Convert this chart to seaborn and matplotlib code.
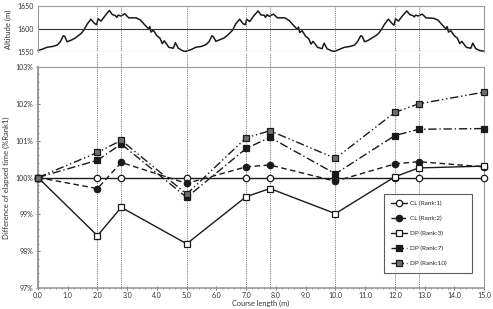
import numpy as np
import pandas as pd
import seaborn as sns
import matplotlib.pyplot as plt
from matplotlib.ticker import MultipleLocator, FuncFormatter

sns.set_theme(style="white")
plt.rcParams['font.family'] = ['Lato', 'DejaVu Sans']

# course profile (km, altitude in m), three laps
alt_km = [0.00, 0.15, 0.30, 0.50, 0.65, 0.75, 0.85, 0.90, 0.98, 1.10, 1.25, 1.35, 1.45, 1.55, 1.65, 1.78,
          1.90, 1.97, 2.02, 2.12, 2.25, 2.40, 2.50, 2.60, 2.65, 2.70, 2.78, 2.85, 2.92, 3.05, 3.30, 3.45,
          3.60, 3.72, 3.76, 3.80, 3.88, 4.00, 4.10, 4.18, 4.25, 4.40, 4.55, 4.62, 4.72, 4.85, 4.95,
          5.00, 5.15, 5.30, 5.50, 5.65, 5.75, 5.85, 5.90, 5.98, 6.10, 6.25, 6.35, 6.45, 6.55, 6.65, 6.78,
          6.90, 6.97, 7.02, 7.12, 7.25, 7.40, 7.50, 7.60, 7.65, 7.70, 7.78, 7.85, 7.92, 8.05, 8.30, 8.45,
          8.60, 8.72, 8.76, 8.80, 8.88, 9.00, 9.10, 9.18, 9.25, 9.40, 9.55, 9.62, 9.72, 9.85, 9.95,
          10.00, 10.15, 10.30, 10.50, 10.65, 10.75, 10.85, 10.90, 10.98, 11.10, 11.25, 11.35, 11.45, 11.55,
          11.65, 11.78, 11.90, 11.97, 12.02, 12.12, 12.25, 12.40, 12.50, 12.60, 12.65, 12.70, 12.78, 12.85,
          12.92, 13.05, 13.30, 13.45, 13.60, 13.72, 13.76, 13.80, 13.88, 14.00, 14.10, 14.18, 14.25, 14.40,
          14.55, 14.62, 14.72, 14.85, 14.95, 15.00]
alt_m = [1553, 1556, 1560, 1562, 1565, 1572, 1585, 1584, 1572, 1575, 1580, 1585, 1590, 1598, 1610, 1621,
         1612, 1609, 1622, 1617, 1628, 1640, 1631, 1629, 1625, 1630, 1628, 1630, 1633, 1624, 1624, 1619,
         1608, 1600, 1605, 1593, 1597, 1585, 1580, 1568, 1574, 1560, 1558, 1570, 1558, 1553, 1551,
         1552, 1555, 1560, 1562, 1566, 1572, 1585, 1583, 1573, 1576, 1580, 1585, 1591, 1598, 1611, 1621,
         1611, 1609, 1621, 1616, 1628, 1639, 1630, 1630, 1625, 1631, 1627, 1630, 1632, 1624, 1624, 1618,
         1607, 1599, 1604, 1592, 1596, 1584, 1579, 1567, 1573, 1560, 1557, 1569, 1557, 1553, 1551,
         1552, 1556, 1560, 1562, 1565, 1573, 1585, 1584, 1572, 1575, 1581, 1585, 1590, 1599,
         1610, 1621, 1612, 1608, 1622, 1617, 1628, 1639, 1631, 1629, 1626, 1630, 1628, 1630,
         1632, 1624, 1623, 1619, 1608, 1600, 1605, 1593, 1596, 1585, 1580, 1568, 1573, 1560,
         1558, 1569, 1557, 1553, 1552, 1552]

# split points and elapsed-time ratios
split_km = [0.0, 2.0, 2.8, 5.0, 7.0, 7.8, 10.0, 12.0, 12.8, 15.0]
cl_rank1 = [100.0, 100.0, 100.0, 100.0, 100.0, 100.0, 100.0, 100.0, 100.0, 100.0]
cl_rank2 = [100.0, 99.70, 100.41, 99.84, 100.29, 100.34, 99.90, 100.37, 100.43, 100.29]
dp_rank3 = [100.0, 98.42, 99.19, 98.20, 99.48, 99.70, 99.02, 100.02, 100.26, 100.31]
dp_rank7 = [100.0, 100.47, 100.91, 99.46, 100.79, 101.09, 100.10, 101.14, 101.31, 101.33]
dp_rank10 = [100.0, 100.68, 101.01, 99.55, 101.08, 101.27, 100.52, 101.77, 102.00, 102.32]
guide_km = [2.0, 2.8, 5.0, 7.0, 7.8, 10.0, 12.0, 12.8]

fig = plt.figure(figsize=(4.93, 3.09), dpi=100)
ax_top = fig.add_axes([0.077, 0.832, 0.905, 0.149])
ax = fig.add_axes([0.077, 0.068, 0.905, 0.715])

line_c = '#1a1a1a'
frame_c = '#9a9a9a'

# altitude panel
sns.lineplot(x=alt_km, y=alt_m, ax=ax_top, color=line_c, lw=1.1, clip_on=False)
ax_top.set_xlim(0, 15)
ax_top.set_ylim(1550, 1650)
ax_top.set_yticks([1550, 1600, 1650])
ax_top.set_xticks([])
ax_top.axhline(1600, color='#333333', lw=0.8)
ax_top.axhline(1550, color='#333333', lw=0.8)
ax_top.tick_params(axis='y', labelsize=5, length=0, pad=3, colors='#333333')
ax_top.set_ylabel('Altitude (m)', fontsize=5.5, labelpad=4, color='#333333')
for s in ['top', 'left', 'right']:
    ax_top.spines[s].set_color(frame_c)
    ax_top.spines[s].set_linewidth(0.8)
ax_top.spines['bottom'].set_visible(False)

# guide lines through both panels
for g in guide_km:
    ax_top.axvline(g, color='#555555', lw=0.6, ls=(0, (1, 1.2)))
    ax.axvline(g, ymin=0, ymax=1.065, color='#555555', lw=0.6, ls=(0, (1, 1.2)), clip_on=False)

# elapsed-time panel
series = [
    ('CL (Rank:1)', cl_rank1, '-', 'o', 'white'),
    ('CL (Rank:2)', cl_rank2, (0, (4, 2.5)), 'o', line_c),
    ('DP (Rank:3)', dp_rank3, '-', 's', 'white'),
    ('DP (Rank:7)', dp_rank7, (0, (6, 2, 1, 2)), 's', line_c),
    ('DP (Rank:10)', dp_rank10, (0, (6, 2, 1, 2, 1, 2)), 's', '#6e6e6e'),
]
for label, vals, ls, mk, fc in series:
    sns.lineplot(x=split_km, y=vals, ax=ax, color=line_c, lw=1.0, linestyle=ls,
                 marker=mk, markersize=4.6, markerfacecolor=fc, markeredgecolor=line_c,
                 markeredgewidth=0.9, label=label, clip_on=False, zorder=3)

ax.set_xlim(0, 15)
ax.set_ylim(97, 103)
ax.xaxis.set_major_locator(MultipleLocator(1))
ax.xaxis.set_minor_locator(MultipleLocator(0.2))
ax.yaxis.set_major_locator(MultipleLocator(1))
ax.yaxis.set_minor_locator(MultipleLocator(0.2))
ax.xaxis.set_major_formatter(FuncFormatter(lambda v, p: f'{v:.1f}'))
ax.yaxis.set_major_formatter(FuncFormatter(lambda v, p: f'{v:.0f}%'))
ax.tick_params(axis='both', which='major', labelsize=5, length=3, width=0.6,
               direction='inout', colors='#555555', labelcolor='#333333', bottom=True, left=True)
ax.tick_params(axis='both', which='minor', length=2, width=0.5, direction='inout',
               colors='#555555', bottom=True, left=True)
ax.tick_params(axis='x', pad=1.5)
ax.tick_params(axis='y', pad=2)
ax.set_xlabel('Course length (m)', fontsize=5.3, labelpad=0.5, color='#333333')
ax.set_ylabel('Difference of elapsed time (%Rank1)', fontsize=5.5, labelpad=4, color='#333333')
for s in ax.spines.values():
    s.set_color(frame_c)
    s.set_linewidth(0.8)
ax.spines['left'].set_linewidth(1.4)
ax.spines['bottom'].set_linewidth(1.2)

leg = ax.legend(loc='lower left', bbox_to_anchor=(0.776, 0.068, 0.197, 0.33), mode='expand',
                fontsize=4.6, frameon=True, fancybox=False, edgecolor='#333333',
                borderpad=1.0, labelspacing=1.5, handlelength=2.6, handletextpad=0.4,
                borderaxespad=0)
leg.get_frame().set_linewidth(0.8)

fig.savefig('out.png', dpi=100)
